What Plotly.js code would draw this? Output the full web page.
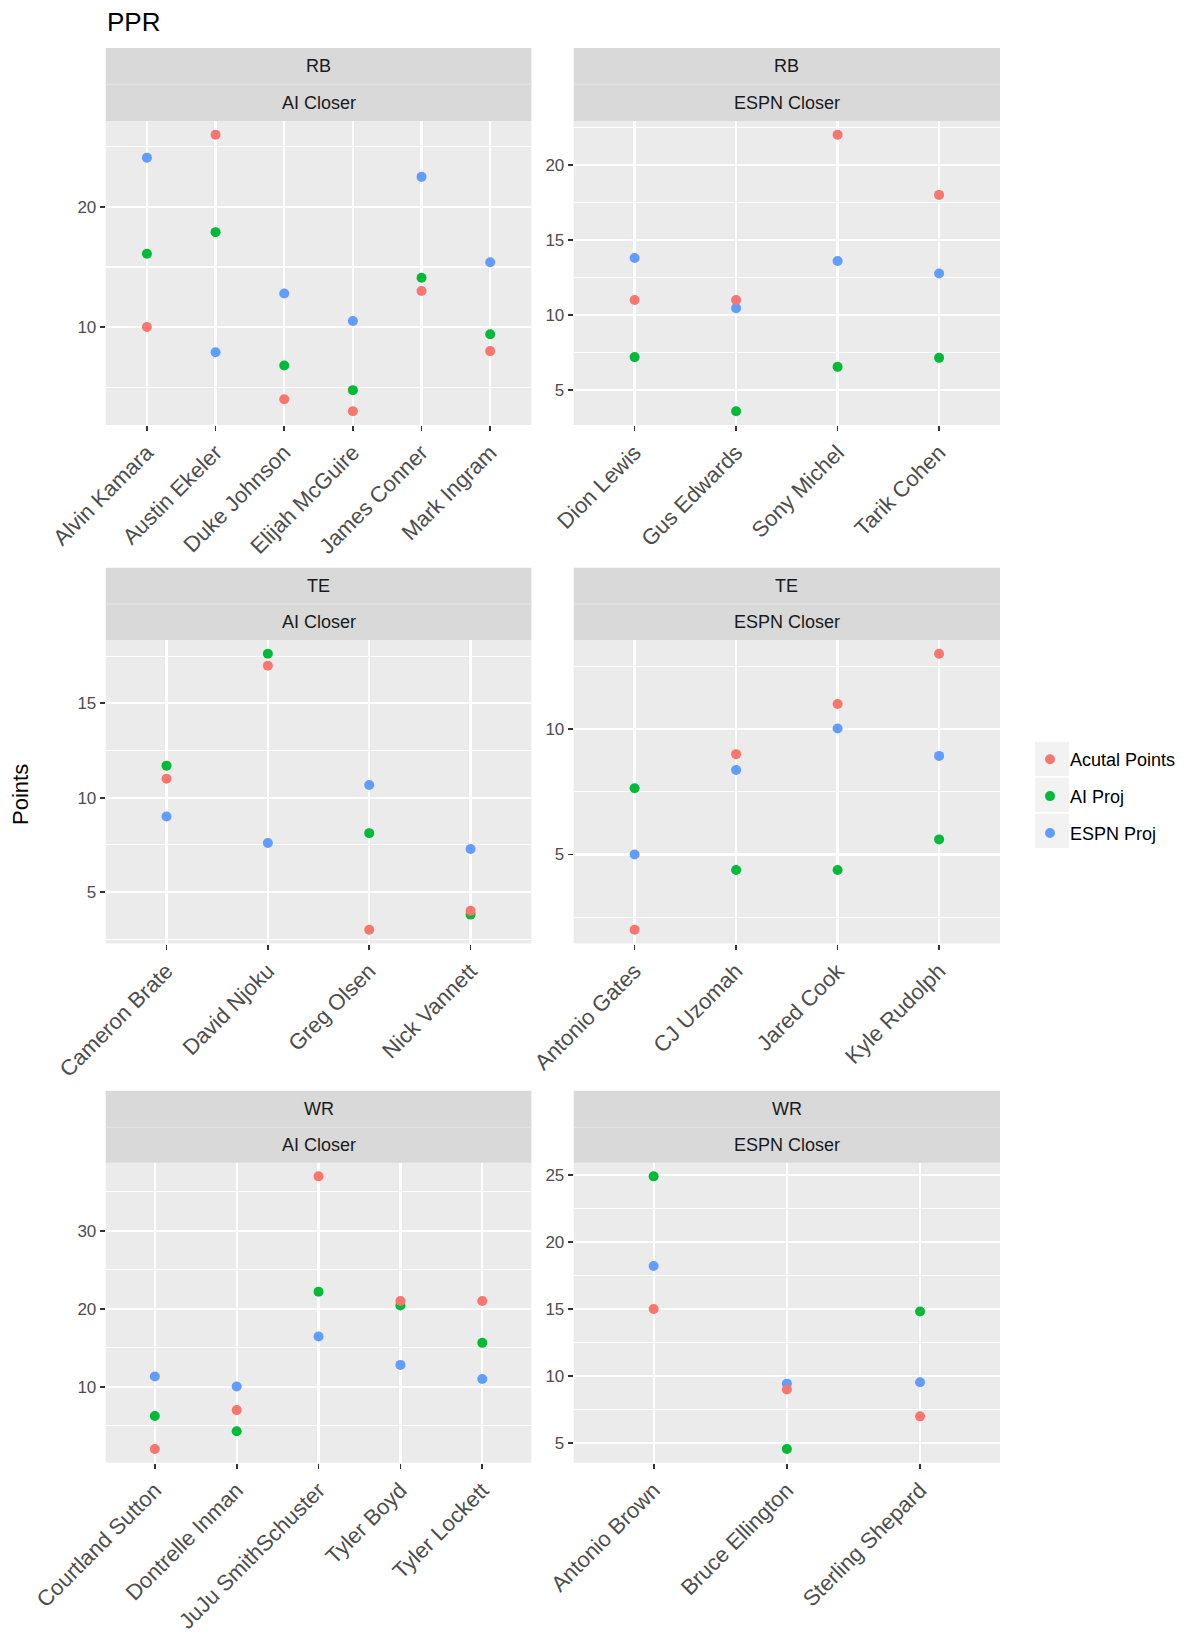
<!DOCTYPE html>
<html>
<head>
<meta charset="utf-8">
<script src="https://cdn.plot.ly/plotly-3.0.1.min.js"></script>
<style>html,body{margin:0;padding:0;background:#fff;}#chart{width:1200px;height:1650px;}</style>
</head>
<body>
<div id="chart"></div>
<script>
// ---------------- DATA ----------------
const seriesNames = ['Acutal Points', 'AI Proj', 'ESPN Proj'];
const seriesColors = ['#F8766D', '#00BA38', '#619CFF'];

const rbAIPlayers = ['Alvin Kamara', 'Austin Ekeler', 'Duke Johnson', 'Elijah McGuire', 'James Conner', 'Mark Ingram'];
const rbAIActual = [10, 26, 4, 3, 13, 8];
const rbAIProjAI = [16.1, 17.9, 6.8, 4.75, 14.1, 9.4];
const rbAIProjESPN = [24.1, 7.9, 12.8, 10.5, 22.5, 15.4];

const rbESPNPlayers = ['Dion Lewis', 'Gus Edwards', 'Sony Michel', 'Tarik Cohen'];
const rbESPNActual = [11, 11, 22, 18];
const rbESPNProjAI = [7.2, 3.6, 6.55, 7.15];
const rbESPNProjESPN = [13.8, 10.46, 13.6, 12.77];

const teAIPlayers = ['Cameron Brate', 'David Njoku', 'Greg Olsen', 'Nick Vannett'];
const teAIActual = [11, 17, 3, 4];
const teAIProjAI = [11.7, 17.63, 8.12, 3.8];
const teAIProjESPN = [9.0, 7.6, 10.67, 7.28];

const teESPNPlayers = ['Antonio Gates', 'CJ Uzomah', 'Jared Cook', 'Kyle Rudolph'];
const teESPNActual = [2, 9, 11, 13];
const teESPNProjAI = [7.64, 4.38, 4.38, 5.6];
const teESPNProjESPN = [5.0, 8.37, 10.02, 8.93];

const wrAIPlayers = ['Courtland Sutton', 'Dontrelle Inman', 'JuJu SmithSchuster', 'Tyler Boyd', 'Tyler Lockett'];
const wrAIActual = [2, 7, 37, 21, 21];
const wrAIProjAI = [6.25, 4.28, 22.19, 20.43, 15.63];
const wrAIProjESPN = [11.31, 10.02, 16.45, 12.8, 11.0];

const wrESPNPlayers = ['Antonio Brown', 'Bruce Ellington', 'Sterling Shepard'];
const wrESPNActual = [15, 9, 7];
const wrESPNProjAI = [24.9, 4.56, 14.82];
const wrESPNProjESPN = [18.21, 9.44, 9.54];

const positions = ['RB', 'TE', 'WR'];
const closers = ['AI Closer', 'ESPN Closer'];

// ---------------- LAYOUT HELPERS ----------------
const W = 1200, H = 1650;
const FONT = '"Liberation Sans", Arial, sans-serif';
const colX = [[105.7, 531.4], [573.7, 1000]];
const rowPlotY = [[121, 425], [640, 943.5], [1162.7, 1462.7]];
const rowStripY = [[48, 84.3, 121], [567.7, 604, 640], [1090.7, 1127.3, 1162.7]];

const panels = [
  {pos: 0, cl: 0, players: rbAIPlayers, vals: [rbAIActual, rbAIProjAI, rbAIProjESPN], dtick: 10},
  {pos: 0, cl: 1, players: rbESPNPlayers, vals: [rbESPNActual, rbESPNProjAI, rbESPNProjESPN], dtick: 5},
  {pos: 1, cl: 0, players: teAIPlayers, vals: [teAIActual, teAIProjAI, teAIProjESPN], dtick: 5},
  {pos: 1, cl: 1, players: teESPNPlayers, vals: [teESPNActual, teESPNProjAI, teESPNProjESPN], dtick: 5},
  {pos: 2, cl: 0, players: wrAIPlayers, vals: [wrAIActual, wrAIProjAI, wrAIProjESPN], dtick: 10},
  {pos: 2, cl: 1, players: wrESPNPlayers, vals: [wrESPNActual, wrESPNProjAI, wrESPNProjESPN], dtick: 5}
];

const px2x = p => p / W;
const px2y = p => 1 - p / H;

const traces = [];
const layout = {
  width: W, height: H,
  margin: {l: 0, r: 0, t: 0, b: 0},
  paper_bgcolor: '#FFFFFF',
  plot_bgcolor: '#EBEBEB',
  font: {family: FONT, color: '#000000'},
  showlegend: true,
  legend: {
    x: px2x(1030), xanchor: 'left',
    y: px2y(741), yanchor: 'top',
    font: {family: FONT, size: 18, color: '#000000'},
    bgcolor: 'rgba(0,0,0,0)',
    tracegroupgap: 10.5,
    itemclick: false
  },
  title: {
    text: 'PPR', x: px2x(107), xanchor: 'left', xref: 'paper',
    y: px2y(22), yanchor: 'middle', yref: 'paper',
    font: {family: FONT, size: 26, color: '#000000'}
  },
  shapes: [],
  annotations: []
};

// draw order: AI Proj, ESPN Proj, then actual on top
const drawOrder = [1, 2, 0];

panels.forEach((p, i) => {
  const k = i + 1;
  const xa = 'xaxis' + (k === 1 ? '' : k);
  const ya = 'yaxis' + (k === 1 ? '' : k);
  const xr = 'x' + (k === 1 ? '' : k);
  const yr = 'y' + (k === 1 ? '' : k);
  const cx = colX[p.cl], ry = rowPlotY[p.pos], sy = rowStripY[p.pos];

  // y range: data range expanded by 5%
  const all = [].concat(...p.vals);
  const mn = Math.min(...all), mx = Math.max(...all);
  const pad = (mx - mn) * 0.05;

  drawOrder.forEach(s => {
    traces.push({
      type: 'scatter', mode: 'markers',
      x: p.players, y: p.vals[s],
      xaxis: xr, yaxis: yr,
      name: seriesNames[s],
      legendgroup: seriesNames[s],
      legendrank: s + 1,
      showlegend: i === 0,
      marker: {color: seriesColors[s], size: 10},
      hoverinfo: 'x+y+name'
    });
  });

  layout[xa] = {
    domain: [px2x(cx[0]), px2x(cx[1])],
    anchor: yr,
    type: 'category',
    categoryorder: 'array', categoryarray: p.players,
    range: [-0.6, p.players.length - 0.4],
    showgrid: true, gridcolor: '#FFFFFF', gridwidth: 2.2,
    zeroline: false, showline: false,
    ticks: 'outside', ticklen: 5, tickwidth: 1.8, tickcolor: '#333333',
    tickangle: -45,
    tickfont: {family: FONT, size: 22, color: '#4D4D4D'},
    fixedrange: true
  };
  layout[ya] = {
    domain: [px2y(ry[1]), px2y(ry[0])],
    anchor: xr,
    range: [mn - pad, mx + pad],
    tick0: 0, dtick: p.dtick,
    showgrid: true, gridcolor: '#FFFFFF', gridwidth: 2.2,
    minor: {tick0: 0, dtick: p.dtick / 2, showgrid: true, gridcolor: '#FFFFFF', gridwidth: 1.1},
    zeroline: false, showline: false,
    ticks: 'outside', ticklen: 5, tickwidth: 1.8, tickcolor: '#333333',
    tickfont: {family: FONT, size: 17, color: '#4D4D4D'},
    fixedrange: true
  };

  // facet strips
  layout.shapes.push({
    type: 'rect', xref: 'paper', yref: 'paper',
    x0: px2x(cx[0]), x1: px2x(cx[1]), y0: px2y(sy[2]), y1: px2y(sy[0]),
    fillcolor: '#D9D9D9', line: {width: 0}, layer: 'below'
  });
  layout.shapes.push({
    type: 'line', xref: 'paper', yref: 'paper',
    x0: px2x(cx[0]), x1: px2x(cx[1]), y0: px2y(sy[1]), y1: px2y(sy[1]),
    line: {color: '#E4E4E4', width: 1}
  });
  const midX = px2x((cx[0] + cx[1]) / 2);
  layout.annotations.push({
    text: positions[p.pos], xref: 'paper', yref: 'paper',
    x: midX, y: px2y((sy[0] + sy[1]) / 2), xanchor: 'center', yanchor: 'middle',
    showarrow: false, font: {family: FONT, size: 18, color: '#1A1A1A'}
  });
  layout.annotations.push({
    text: closers[p.cl], xref: 'paper', yref: 'paper',
    x: midX, y: px2y((sy[1] + sy[2]) / 2), xanchor: 'center', yanchor: 'middle',
    showarrow: false, font: {family: FONT, size: 18, color: '#1A1A1A'}
  });
});

// y axis title
layout.annotations.push({
  text: 'Points', xref: 'paper', yref: 'paper',
  x: px2x(20), y: px2y(795), xanchor: 'center', yanchor: 'middle',
  textangle: -90, showarrow: false,
  font: {family: FONT, size: 22, color: '#000000'}
});

// legend key backgrounds
[[741.7, 776], [777.7, 812], [813.7, 848]].forEach(r => {
  layout.shapes.push({
    type: 'rect', xref: 'paper', yref: 'paper',
    x0: px2x(1035), x1: px2x(1069), y0: px2y(r[1]), y1: px2y(r[0]),
    fillcolor: '#F2F2F2', line: {width: 0}, layer: 'below'
  });
});

Plotly.newPlot('chart', traces, layout, {staticPlot: true, displayModeBar: false});
</script>
</body>
</html>
